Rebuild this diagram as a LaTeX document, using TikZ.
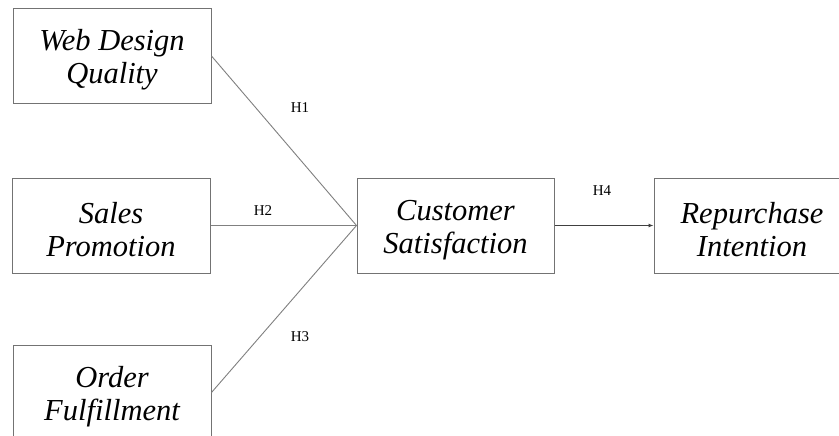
\documentclass[tikz,border=0pt]{standalone}
\usepackage{fontspec}
\setmainfont{Liberation Serif}
\usetikzlibrary{arrows.meta}
\newcommand{\toppad}{\rule{0pt}{29pt}}
\begin{document}
\begin{tikzpicture}[x=1pt,y=-1pt,
  varbox/.style={draw=black!55, line width=1pt, minimum width=198pt, minimum height=95pt,
    inner sep=0pt, align=center, font=\fontsize{30.5}{33}\selectfont\itshape},
  link/.style={draw=black!50, line width=0.9pt},
  hlab/.style={font=\fontsize{15}{18}\selectfont, inner sep=0pt}]
\useasboundingbox[fill=white] (0,0) rectangle (839,436);
\node[varbox] (wdq) at (112,56) {\toppad Web Design\\Quality};
\node[varbox] (sp) at (111,225.5) {\toppad Sales\\Promotion};
\node[varbox] (of) at (112,392.5) {\toppad Order\\Fulfillment};
\node[varbox, minimum width=197pt] (cs) at (455.5,225.5) {\toppad Customer\\Satisfaction};
\node[varbox, minimum width=196pt] (ri) at (752,225.5) {\toppad Repurchase\\Intention};
\draw[link] (wdq.east) -- (cs.west);
\draw[link] (sp.east) -- (cs.west);
\draw[link] (of.east) -- (cs.west);
\draw[link, draw=black!75, -{Latex[length=5pt,width=4pt]}] (cs.east) -- (ri.west);
\node[hlab] (h1) at (300,108) {H1};
\node[hlab] (h2) at (263,211) {H2};
\node[hlab] (h3) at (300,337) {H3};
\node[hlab] (h4) at (602,191) {H4};
\end{tikzpicture}
\end{document}
